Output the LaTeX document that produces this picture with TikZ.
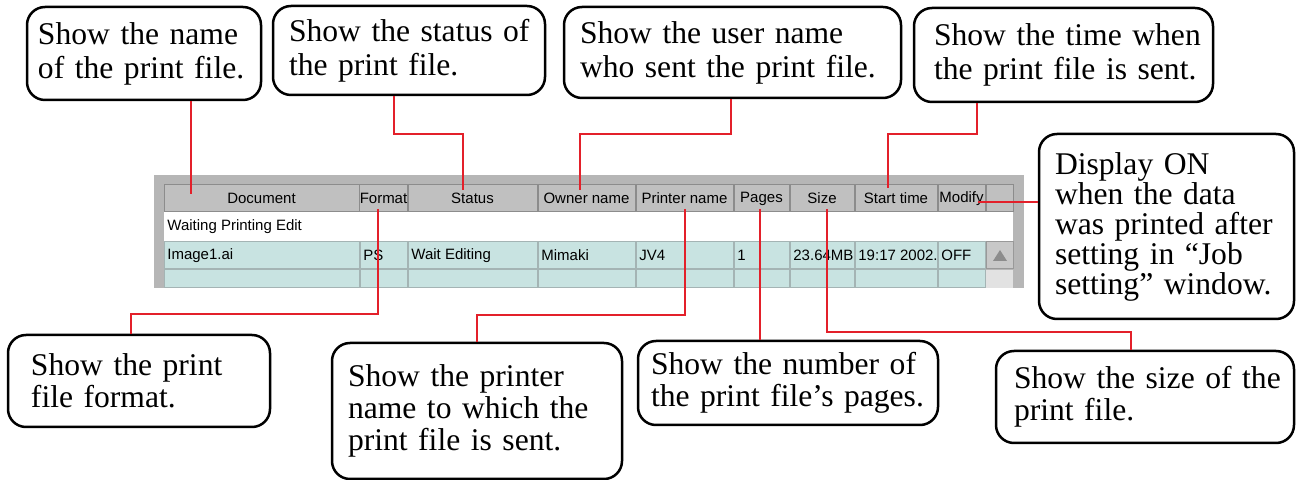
\documentclass[tikz,border=0pt]{standalone}
\usepackage{fontspec}
\setmainfont{Liberation Serif}
\newfontfamily\uifont{Liberation Sans}
\definecolor{conred}{HTML}{E3202A}
\definecolor{framegray}{HTML}{B6B6B6}
\definecolor{headgray}{HTML}{C0C0C0}
\definecolor{rowcyan}{HTML}{C8E3E1}
\definecolor{sepgray}{HTML}{A4B4B4}
\definecolor{scrollgray}{HTML}{E2E2E2}
\definecolor{buttongray}{HTML}{C8C8C8}
\definecolor{arrowgray}{HTML}{8C8C8C}
\begin{document}
\begin{tikzpicture}[x=0.5pt,y=-0.5pt,
  callout/.style={draw=black, line width=1.25pt, rounded corners=9pt, fill=white,
    align=left, inner ysep=0pt, font=\fontsize{15.8}{16.5}\selectfont},
  hcell/.style={fill=headgray, draw=black!45, line width=0.5pt, inner sep=0pt,
    minimum height=13.5pt, font=\uifont\fontsize{7.5}{8}\selectfont},
  dcell/.style={fill=rowcyan, draw=sepgray, line width=0.5pt},
  celltext/.style={anchor=west, inner sep=0pt, font=\uifont\fontsize{7.5}{8}\selectfont},
  conn/.style={draw=conred, line width=1pt}
]
\useasboundingbox (0,0) rectangle (1296,480);

% ---------- table ----------
\path[fill=framegray] (154,175) rectangle (1024,288);
\node[hcell, minimum width=97.5pt] (hDoc) at (261.5,198.5) {Document};
\node[hcell, minimum width=23.5pt] (hFmt) at (383.5,198.5) {Format};
\node[hcell, minimum width=64.5pt] (hSta) at (472.5,198.5) {Status};
\node[hcell, minimum width=48.5pt] (hOwn) at (586.5,198.5) {Owner name};
\node[hcell, minimum width=48.5pt] (hPrn) at (684.5,198.5) {Printer name};
\node[hcell, minimum width=27.5pt] (hPag) at (761.5,198.5) {Pages};
\node[hcell, minimum width=32pt] (hSiz) at (822,198.5) {Size};
\node[hcell, minimum width=41pt] (hSt) at (896,198.5) {Start time};
\node[hcell, minimum width=23.5pt] (hMod) at (961.5,198.5) {Modify};
\node[hcell, minimum width=13.5pt] (hScr) at (999.5,198.5) {};

\node[fill=white, inner sep=0pt, minimum width=424.5pt, minimum height=15pt] (row1) at (588.5,227) {};
\node[celltext] (vWait) at (167,227) {Waiting Printing Edit};

\foreach \n/\l/\r/\t in {doc/164/359/Image1.ai, fmt/360/407/PS, sta/408/537/Wait Editing,
  own/538/635/Mimaki, prn/636/733/JV4, pag/734/789/1, siz/790/854/23.64MB,
  st/855/937/19:17 2002., mod/938/985/OFF} {
  \path[dcell] (\l,242) rectangle (\r,269);
  \path[dcell] (\l,270) rectangle (\r,288);
  \node[celltext] (v\n) at (\l+3,255.5) {\t};
}
\path[fill=buttongray, draw=black!40, line width=0.5pt] (986,242) rectangle (1013,269);
\path[fill=arrowgray] (993,261) -- (1007,261) -- (1000,250) -- cycle;
\path[fill=scrollgray] (986,270) rectangle (1013,288);

% ---------- callouts ----------
\node[callout, minimum width=117pt, minimum height=46.5pt, text width=106pt, inner xsep=5.5pt,
  font=\fontsize{15.8}{17}\selectfont] (b1) at (144,53.5)
  {\mbox{Show the name}\\\mbox{of the print file.}};
\node[callout, minimum width=136pt, minimum height=44.5pt, text width=120pt, inner xsep=8pt,
  font=\fontsize{15.8}{17}\selectfont] (b2) at (409,50.5)
  {\mbox{Show the status of}\\\mbox{the print file.}};
\node[callout, minimum width=168.5pt, minimum height=45.5pt, text width=152.5pt, inner xsep=8pt,
  font=\fontsize{15.8}{17}\selectfont] (b3) at (732.5,52.5)
  {\mbox{Show the user name}\\\mbox{who sent the print file.}};
\node[callout, minimum width=149.5pt, minimum height=47pt, text width=129.5pt, inner xsep=10pt,
  font=\fontsize{15.8}{17}\selectfont] (b4) at (1063.5,55)
  {\mbox{Show the time when}\\\mbox{the print file is sent.}};
\node[callout, minimum width=127.5pt, minimum height=92.5pt, text width=111.5pt, inner xsep=8pt,
  font=\fontsize{15.8}{15}\selectfont] (b5) at (1166.5,226.5)
  {\mbox{Display ON}\\\mbox{when the data}\\\mbox{was printed after}\\\mbox{setting in “Job}\\\mbox{setting” window.}};
\node[callout, minimum width=131pt, minimum height=46pt, text width=108pt, inner xsep=11.5pt,
  font=\fontsize{15.8}{16}\selectfont] (b6) at (139,381)
  {\mbox{Show the print}\\\mbox{file format.}};
\node[callout, minimum width=145pt, minimum height=68pt, text width=129pt, inner xsep=8pt,
  font=\fontsize{15.8}{16}\selectfont] (b7) at (477,411)
  {\mbox{Show the printer}\\\mbox{name to which the}\\\mbox{print file is sent.}};
\node[callout, minimum width=150pt, minimum height=42pt, text width=137pt, inner xsep=6.5pt,
  font=\fontsize{15.8}{16}\selectfont] (b8) at (788,383)
  {\mbox{Show the number of}\\\mbox{the print file’s pages.}};
\node[callout, minimum width=149pt, minimum height=46pt, text width=131pt, inner xsep=9pt,
  font=\fontsize{15.8}{16}\selectfont] (b9) at (1145,397)
  {\mbox{Show the size of the}\\\mbox{print file.}};

% ---------- connectors ----------
\coordinate (s1) at (191,194);
\draw[conn] (b1.south -| s1) -- (s1);
\coordinate (k2) at (394,134); \coordinate (s2) at (463,190);
\draw[conn] (b2.south -| k2) -- (k2) -| (s2);
\coordinate (k3) at (731,134); \coordinate (s3) at (580,190);
\draw[conn] (b3.south -| k3) -- (k3) -| (s3);
\coordinate (k4) at (977,134); \coordinate (s4) at (888,188);
\draw[conn] (b4.south -| k4) -- (k4) -| (s4);
\coordinate (s5) at (978,202);
\draw[conn] (s5) -- (b5.west |- s5);
\coordinate (s6) at (378,209); \coordinate (k6) at (131,314);
\draw[conn] (s6) |- (k6) -- (b6.north -| k6);
\coordinate (s7) at (685,209); \coordinate (k7) at (477,315);
\draw[conn] (s7) |- (k7) -- (b7.north -| k7);
\coordinate (s8) at (760,209);
\draw[conn] (s8) -- (b8.north -| s8);
\coordinate (s9) at (827,209); \coordinate (k9) at (1131,332);
\draw[conn] (s9) |- (k9) -- (b9.north -| k9);
\end{tikzpicture}
\end{document}
